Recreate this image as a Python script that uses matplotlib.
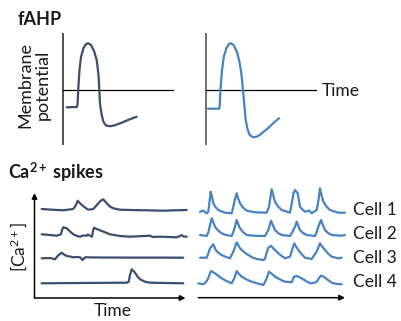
import matplotlib
matplotlib.use("Agg")
import matplotlib.pyplot as plt

plt.rcParams['font.family'] = ['Lato', 'DejaVu Sans']
plt.rcParams['mathtext.fontset'] = 'custom'
plt.rcParams['mathtext.rm'] = 'Lato'
plt.rcParams['mathtext.bf'] = 'Lato:bold'
plt.rcParams['mathtext.it'] = 'Lato:italic'

# ---------------- data ----------------
# fAHP action potentials (time, membrane potential; 0 = reference line)
ap_left_t = [4.7, 14.7, 15.5, 16, 16.5, 17.5, 19, 21.5, 24, 26.3, 29, 32, 34.7, 36.5, 37.3, 38,
             39.7, 41.5, 44, 48, 53, 59.7, 66, 74.7]
ap_left_v = [-17.3, -17, -15, -5, 5, 20, 33, 42, 46, 46.7, 45, 39, 30, 15, 0, -14,
             -25, -32, -35.5, -36.3, -35.2, -32.7, -30, -26.7]
ap_right_t = [3, 14, 14.7, 15.2, 15.8, 17, 19, 21.5, 24, 25.7, 28.5, 32, 34.5, 36.3, 38, 39.3,
              40.7, 42.5, 44.7, 48, 51.5, 54.7, 59.5, 64.7, 69.5, 74]
ap_right_v = [-18.7, -18.7, -16, -5, 5, 20, 34, 42, 46, 46.7, 45, 38, 28, 17, 0, -15,
              -30, -39, -45, -47.3, -46.8, -45, -41, -36.7, -32, -28.3]

# Ca2+ traces, left group (sparse activity)
L1_t = [7.2, 17.5, 28.8, 38.8, 41.5, 43.2, 45.5, 49.5, 53.8, 58.8, 61.5, 63.8, 66.5, 68.8, 72.2,
        75.5, 78.8, 85.5, 95.5, 112.2, 128.8, 140.5, 152.2]
L1_v = [1, 0.3, -0.3, 1, 5, 9.3, 6.7, 3.2, 0.3, 1, 4, 6.7, 9.5, 10.7, 6.7,
        3.5, 1.7, 0.3, 0, -0.3, -0.7, -0.3, 0]
L2_t = [7.2, 15.5, 22.2, 26.5, 27.5, 28.8, 32.2, 35.5, 38.8, 42.5, 45.5, 48.5, 52.2, 53.5, 55.5,
        57.5, 58.5, 59.5, 62.2, 68.5, 75.5, 85.5, 95.5, 115.5, 118.2, 125.5, 142.2, 145.5, 147.2,
        149, 152.2]
L2_v = [1.2, 0.5, -0.2, 1.2, 5.5, 8.2, 7.2, 4, 1.2, -0.5, -1.2, 0, -0.2, 1, -0.2,
        -1.2, 4.5, 7.8, 6.5, 4, 1.2, -0.5, -1.2, -0.2, -1.5, -1.2, -1.8, -0.5, 0.5,
        -1, -1.2]
L3_t = [7.2, 15.5, 20.5, 23.5, 27.2, 29.5, 32.2, 35.5, 38.8, 42.5, 45.5, 48.2, 50.5, 65.5, 95.5,
        125.5, 148.8]
L3_v = [-0.8, -0.5, -1.8, 2, 4.8, 3, 1.5, 1, 0.2, 0.5, 0.2, -2.5, 0.2, 0, -0.1,
        -0.1, -0.2]
L4_t = [7.2, 45.5, 75.5, 92.2, 94.2, 95.5, 97.2, 99, 100.5, 103, 105.5, 110.5, 115.5, 130.5, 148.8]
L4_v = [-0.3, 0, 0.2, 0.3, 1.3, 8, 13.7, 12, 10.3, 6.5, 3.7, 1.3, 0.3, 0, -0.3]

# Ca2+ traces, right group (synchronous activity)
R1_t = [1.7, 5, 8.4, 10, 11.2, 12.4, 13.7, 15, 17.2, 20, 26.7, 33.4, 35, 36.7, 38.4, 39.7, 41.7,
        44.7, 48.4, 56.7, 68.4, 70.7, 72.2, 73.4, 74.9, 76.7, 79.7, 83.4, 91.7, 93, 94, 95.2,
        96.7, 99.4, 101.7, 104.2, 106.7, 111, 113.4, 118.4, 120.2, 121.7, 123.2, 125, 128.2,
        131.7, 140, 146.7]
R1_v = [0.8, 1.8, -0.8, 0.8, 10.5, 20.8, 15.5, 9.2, 5.5, 2.5, -0.2, -0.8, 5.8, 13.5, 19.2, 14.5, 9.2,
        5, 1.8, 0.2, -0.2, 5.8, 15.5, 23.2, 17.5, 10.8, 6, 2.5, -0.2, 6.5, 12.5, 19.5,
        22.5, 19.2, 5.8, 3, 0.8, 1.8, -0.8, 2.5, 12.5, 24.2, 17.5, 10.8, 6,
        2.5, -0.2, -0.2]
R2_t = [1.7, 8.4, 10.2, 11.7, 13.4, 15, 16.7, 19.7, 23.4, 27.7, 33.4, 35.7, 38.4, 40, 41.7, 44.7,
        48.4, 56.7, 66.7, 70, 72.7, 74.7, 76.7, 79.7, 83.4, 91.7, 94.2, 96.7, 98.4, 100, 101.7,
        104.7, 108.4, 116.7, 118.4, 120, 122.7, 124.7, 126.7, 129.7, 133.4, 143.4, 146.7]
R2_v = [1, 0, 4, 11, 17.7, 13.5, 9.3, 5.5, 2.7, 1, 0, 6, 16, 11.5, 7.7, 4,
        1, 0.2, 0, 6, 15.3, 10.5, 6, 3, 1, 0, 4, 9.3, 14.3, 10, 6,
        3, 1, 0, 4, 9.3, 16, 10.5, 6, 3, 1, 0.3, 1]
R3_t = [1.7, 8.4, 10.2, 11.7, 15, 17.4, 20.2, 23.4, 27.7, 31.7, 35, 36.7, 38.4, 41.7, 45.7, 50,
        54.2, 58.4, 65, 66.7, 68.2, 70, 72.7, 75.2, 78.4, 82.7, 86.7, 91.7, 93.7, 96, 97.7,
        100, 103.2, 106.7, 113.4, 115.7, 118.4, 120.2, 121.7, 124.2, 126.7, 129.7, 133.4,
        140, 143.4]
R3_v = [0.3, 0.3, 5, 9.7, 13.7, 8, 5, 3, 1, -0.3, 6.3, 11, 15.7, 9.7, 6, 3,
        0.5, -1, -2, -1, 5, 10.3, 12.3, 9.5, 6.3, 2.5, -0.3, 1.3, 8, 14.7, 11.5,
        8, 4, 0.3, -1, 2.5, 6.3, 11, 14.7, 11, 8, 4.5, 1.3,
        -0.3, 0.3]
R4_t = [0, 5, 7.7, 10, 11.4, 12.7, 14.7, 16.7, 20.2, 23.4, 28.2, 33.4, 36, 38.4, 40.7, 43.4, 48.2,
        53.4, 59.2, 65, 66.7, 68.4, 70.7, 73.7, 76.7, 81.7, 86.7, 93.4, 95.7, 98.4, 100.7,
        103.4, 107.7, 111.7, 115.2, 118.4, 120.7, 122.7, 124.7, 126.7, 129.7, 133.4, 137.7, 143.4]
R4_v = [0.2, -0.8, 1.5, 5.2, 9.5, 12.5, 11.5, 10.2, 7.5, 5.2, 2.5, 0.2, 5.2, 12.5, 9.5, 6.8, 4,
        1.8, 0, -1.5, 1.5, 5.2, 11.8, 9.5, 6.8, 4, 1.8, 1.2, 6.8, 7.5, 6.5,
        5.2, 2.5, 0.2, 0.5, 1.8, 5.5, 7.8, 7, 5.8, 3.5, 0.8, -0.3, -0.8]

cell_labels = ['Cell 1', 'Cell 2', 'Cell 3', 'Cell 4']

# ---------------- layout ----------------
W, H = 401, 321
DARK = '#3c4d6e'
BLUE = '#4583c2'
fig = plt.figure(figsize=(W / 100, H / 100), dpi=100)


def px_axes(x0, y0, x1, y1):
    ax = fig.add_axes([x0 / W, 1 - y1 / H, (x1 - x0) / W, (y1 - y0) / H])
    ax.axis('off')
    return ax


# top-left AP
ax = px_axes(62, 30, 175, 150)
ax.set_xlim(0, 113); ax.set_ylim(-60, 60)
ax.plot([0.7, 0.7], [57, -55], color='#222222', lw=1.1, solid_capstyle='butt')
ax.plot([0.7, 111], [0, 0], color='black', lw=0.9)
ax.plot(ap_left_t, ap_left_v, color=DARK, lw=1.6, solid_joinstyle='round', solid_capstyle='round')

# top-right AP
ax = px_axes(205, 30, 318, 150)
ax.set_xlim(0, 113); ax.set_ylim(-60, 60)
ax.plot([0.7, 0.7], [57, -55], color='#707070', lw=1.4, solid_capstyle='butt')
ax.plot([0.7, 111], [0, 0], color='black', lw=0.9)
ax.plot(ap_right_t, ap_right_v, color=BLUE, lw=1.6, solid_joinstyle='round', solid_capstyle='round')

arrow = dict(arrowstyle='-|>', lw=1.1, color='black', mutation_scale=8, shrinkA=0, shrinkB=0)

# bottom-left Ca traces
ax = px_axes(30, 185, 190, 305)
ax.set_xlim(-4.5, 155.5); ax.set_ylim(-7, 113)
ax.annotate('', xy=(0, 105), xytext=(0, 0), arrowprops=arrow)
ax.annotate('', xy=(151, 0), xytext=(0, 0), arrowprops=arrow)
for (t, v), off in zip([(L1_t, L1_v), (L2_t, L2_v), (L3_t, L3_v), (L4_t, L4_v)],
                       [88, 62.5, 40.5, 15]):
    ax.plot(t, [y + off for y in v], color=DARK, lw=1.6, solid_joinstyle='round',
            solid_capstyle='round')

# bottom-right Ca traces
ax = px_axes(195, 185, 350, 305)
ax.set_xlim(-3.3, 151.7); ax.set_ylim(-7.3, 112.7)
ax.annotate('', xy=(146.7, 0), xytext=(0, 0), arrowprops=arrow)
for (t, v), off in zip([(R1_t, R1_v), (R2_t, R2_v), (R3_t, R3_v), (R4_t, R4_v)],
                       [85.2, 61.7, 39.7, 14.2]):
    ax.plot(t, [y + off for y in v], color=BLUE, lw=1.6, solid_joinstyle='round',
            solid_capstyle='round')

# ---------------- text ----------------
TXT = '#1a1a1a'
fig.text(18 / W, 1 - 25 / H, 'fAHP', fontsize=13, fontweight='bold', color=TXT, va='baseline')
fig.text(8 / W, 1 - 179 / H, r'Ca$^{\mathbf{2+}}$ spikes', fontsize=13, fontweight='bold',
         color=TXT, va='baseline')
fig.text(34 / W, 1 - 85 / H, 'Membrane\npotential', fontsize=13, rotation=90, ha='center',
         va='center', color=TXT, linespacing=1.05)
fig.text(322 / W, 1 - 91 / H, 'Time', fontsize=12.5, va='center', color=TXT)
fig.text(112.5 / W, 1 - 311 / H, 'Time', fontsize=12.5, ha='center', va='center', color=TXT)
fig.text(19 / W, 1 - 247 / H, r'[Ca$^{2+}$]', fontsize=12.5, rotation=90, ha='center',
         va='center', color=TXT)
for lab, y in zip(cell_labels, [210, 234, 258, 282]):
    fig.text(353 / W, 1 - y / H, lab, fontsize=12.5, va='center', color=TXT)

fig.savefig('out.png', dpi=100)
